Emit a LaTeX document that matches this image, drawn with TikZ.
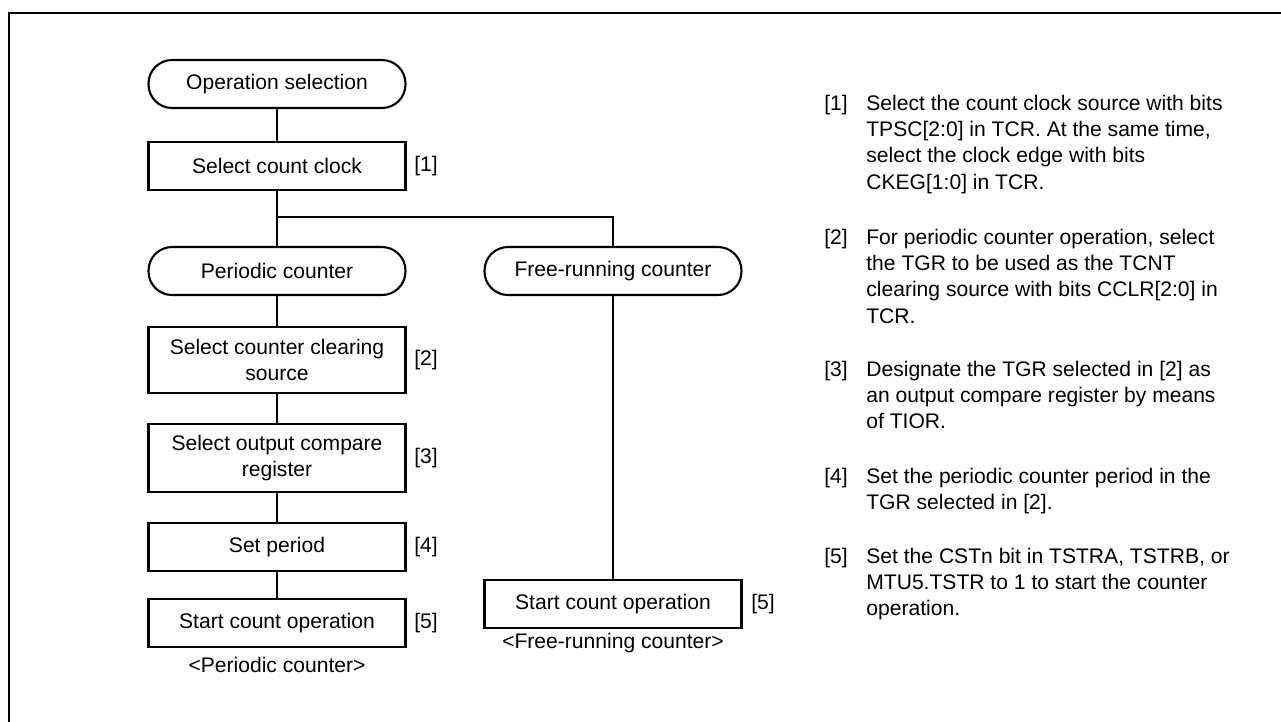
\documentclass[tikz,border=0pt]{standalone}
\usepackage{fontspec}
\setmainfont{Liberation Sans}
\usetikzlibrary{positioning}

\begin{document}
\begin{tikzpicture}[x=0.02cm, y=-0.02cm,
        font=\fontsize{12}{15}\selectfont,
        term/.style={draw, line width=1.2pt, rounded corners=0.47cm, minimum width=5.14cm, minimum height=0.96cm, align=center},
        stepbox/.style={draw, line width=1.2pt, minimum width=5.14cm, minimum height=0.96cm, align=center},
        tag/.style={anchor=west, inner sep=0pt},
        note/.style={anchor=base west, inner sep=0pt},
        link/.style={line width=0.6pt}
      ]
        \useasboundingbox (0,0) rectangle (1281,721);
        \draw[line width=1.4pt] (9,725) -- (9,13) -- (1285,13);

        % periodic counter branch
        \node[term] (opsel) at (277,84) {Operation selection};
        \node[stepbox] (clk) at (277,166) {Select count clock};
        \node[term] (periodic) at (277,271) {Periodic counter};
        \node[stepbox, minimum height=1.32cm] (clr) at (277,360) {Select counter clearing\\source};
        \node[stepbox, minimum height=1.36cm] (cmp) at (277,458) {Select output compare\\register};
        \node[stepbox] (per) at (277,547) {Set period};
        \node[stepbox] (startA) at (277,623) {Start count operation};
        \node (capA) at (277,665) {<Periodic counter>};

        % free-running counter branch
        \node[term] (free) at (613,271) {Free-running counter};
        \node[stepbox] (startB) at (613,604) {Start count operation};
        \node (capB) at (613,643) {<Free-running counter>};

        \node[tag] (t1) at (414,166) {[1]};
        \node[tag] (t2) at (414,360) {[2]};
        \node[tag] (t3) at (414,458) {[3]};
        \node[tag] (t4) at (414,547) {[4]};
        \node[tag] (t5) at (414,623) {[5]};
        \node[tag] (t5b) at (751,604) {[5]};

        \coordinate (split) at (277,217);
        \coordinate (splitR) at (613,217);
        \draw[link] (opsel) -- (clk);
        \draw[link] (clk) -- (split) -- (splitR) -- (free);
        \draw[link] (split) -- (periodic);
        \draw[link] (periodic) -- (clr);
        \draw[link] (clr) -- (cmp);
        \draw[link] (cmp) -- (per);
        \draw[link] (per) -- (startA);
        \draw[link] (free) -- (startB);

        % notes
        \node[note] (n1) at (824,110) {\begin{tabular}[t]{@{}p{0.84cm}@{}l@{}}
          [1] & Select the count clock source with bits\\
              & TPSC[2:0] in TCR. At the same time,\\
              & select the clock edge with bits\\
              & CKEG[1:0] in TCR.\end{tabular}};
        \node[note] (n2) at (824,244) {\begin{tabular}[t]{@{}p{0.84cm}@{}l@{}}
          [2] & For periodic counter operation, select\\
              & the TGR to be used as the TCNT\\
              & clearing source with bits CCLR[2:0] in\\
              & TCR.\end{tabular}};
        \node[note] (n3) at (824,376) {\begin{tabular}[t]{@{}p{0.84cm}@{}l@{}}
          [3] & Designate the TGR selected in [2] as\\
              & an output compare register by means\\
              & of TIOR.\end{tabular}};
        \node[note] (n4) at (824,483) {\begin{tabular}[t]{@{}p{0.84cm}@{}l@{}}
          [4] & Set the periodic counter period in the\\
              & TGR selected in [2].\end{tabular}};
        \node[note] (n5) at (824,563) {\begin{tabular}[t]{@{}p{0.84cm}@{}l@{}}
          [5] & Set the CSTn bit in TSTRA, TSTRB, or\\
              & MTU5.TSTR to 1 to start the counter\\
              & operation.\end{tabular}};
      \end{tikzpicture}
\end{document}
